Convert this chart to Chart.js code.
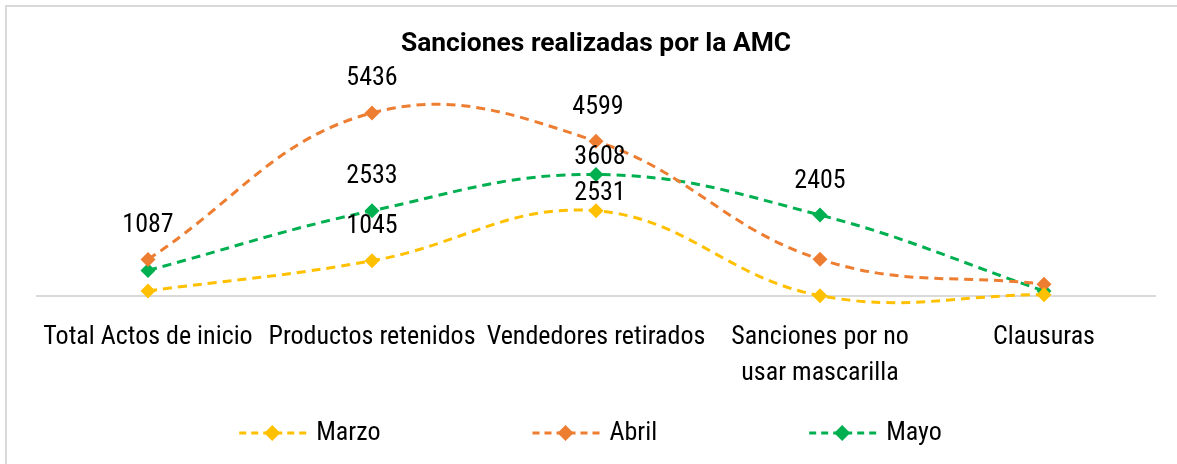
<!DOCTYPE html>
<html><head><meta charset="utf-8">
<script src="https://cdn.jsdelivr.net/npm/chart.js@4.4.1/dist/chart.umd.min.js"></script>
<style>html,body{margin:0;padding:0;background:#fff;overflow:hidden;}</style>
</head><body>
<canvas id="c" width="1177" height="464"></canvas>
<script>
// ---- data ----
const categories = ['Total Actos de inicio', 'Productos retenidos', 'Vendedores retirados', ['Sanciones por no', 'usar mascarilla'], 'Clausuras'];
const seriesNames = ['Marzo', 'Abril', 'Mayo'];
const marzoValues = [150, 1045, 2531, 10, 40];
const abrilValues = [1087, 5436, 4599, 1090, 350];
const mayoValues = [760, 2533, 3608, 2405, 150];
const marzoLabelled = [false, true, true, false, false];
const abrilLabelled = [true, true, true, false, false];
const mayoLabelled = [false, true, true, true, false];
const titleText = 'Sanciones realizadas por la AMC';
const yMin = 0, yMax = 6000;

// ---- styles ----
const NARROW = "'Roboto Condensed', 'Liberation Sans Narrow', 'DejaVu Sans Condensed', sans-serif";
const colors = ['#FFC000', '#ED7D31', '#00B050'];
const valueSets = [marzoValues, abrilValues, mayoValues];
const labelSets = [marzoLabelled, abrilLabelled, mayoLabelled];

const datasets = seriesNames.map((name, i) => ({
  label: name,
  data: valueSets[i],
  showValue: labelSets[i],
  borderColor: colors[i],
  backgroundColor: colors[i],
  borderWidth: 3,
  borderDash: [9, 6],
  tension: 0.4,
  capBezierPoints: false,
  clip: false,
  pointStyle: 'rectRot',
  pointRadius: 7.5,
  pointBorderWidth: 0,
  pointBackgroundColor: colors[i],
  fill: false
}));

const frame = {
  id: 'frame',
  beforeDraw(chart) {
    const ctx = chart.ctx;
    ctx.save();
    ctx.fillStyle = '#fff';
    ctx.fillRect(0, 0, chart.width, chart.height);
    ctx.strokeStyle = '#d9d9d9';
    ctx.lineWidth = 2;
    ctx.beginPath();
    ctx.moveTo(6, chart.height); ctx.lineTo(6, 6); ctx.lineTo(chart.width, 6);
    ctx.stroke();
    ctx.restore();
  },
  beforeDatasetsDraw(chart) {
    const ctx = chart.ctx, a = chart.chartArea;
    const y0 = chart.scales.y.getPixelForValue(0);
    ctx.save();
    ctx.strokeStyle = '#d9d9d9';
    ctx.lineWidth = 2;
    ctx.beginPath(); ctx.moveTo(a.left, y0); ctx.lineTo(a.right, y0); ctx.stroke();
    ctx.restore();
  }
};

const valueLabels = {
  id: 'valueLabels',
  afterDatasetsDraw(chart, args, opts) {
    const ctx = chart.ctx;
    ctx.save();
    ctx.font = opts.font;
    ctx.fillStyle = opts.color;
    ctx.textAlign = 'center';
    ctx.textBaseline = 'middle';
    chart.data.datasets.forEach((ds, di) => {
      const meta = chart.getDatasetMeta(di);
      meta.data.forEach((pt, i) => {
        if (!ds.showValue[i]) return;
        const key = ds.label + ':' + i;
        const lift = opts.lift[key] !== undefined ? opts.lift[key] : opts.lift.default;
        const dx = opts.shift[key] || 0;
        ctx.fillText(String(ds.data[i]), pt.x + dx, pt.y - lift);
      });
    });
    ctx.restore();
  }
};

const customLegend = {
  id: 'customLegend',
  afterDraw(chart, args, opts) {
    const ctx = chart.ctx;
    ctx.save();
    ctx.font = opts.font;
    const items = chart.data.datasets.map(ds => ({text: ds.label, color: ds.borderColor, w: ctx.measureText(ds.label).width}));
    const total = items.reduce((s, it) => s + opts.lineLen + opts.textGap + it.w, 0) + opts.itemGap * (items.length - 1);
    let x = opts.centerX - total / 2;
    const y = opts.y;
    items.forEach(it => {
      ctx.strokeStyle = it.color;
      ctx.lineWidth = 3;
      ctx.setLineDash([7, 5]);
      ctx.beginPath(); ctx.moveTo(x, y); ctx.lineTo(x + opts.lineLen, y); ctx.stroke();
      ctx.setLineDash([]);
      const cx = x + opts.lineLen / 2 - 2, r = 8;
      ctx.fillStyle = it.color;
      ctx.beginPath(); ctx.moveTo(cx, y - r); ctx.lineTo(cx + r, y); ctx.lineTo(cx, y + r); ctx.lineTo(cx - r, y); ctx.closePath(); ctx.fill();
      ctx.fillStyle = '#000';
      ctx.textAlign = 'left';
      ctx.textBaseline = 'middle';
      ctx.fillText(it.text, x + opts.lineLen + opts.textGap, y);
      x += opts.lineLen + opts.textGap + it.w + opts.itemGap;
    });
    ctx.restore();
  }
};

new Chart(document.getElementById('c'), {
  type: 'line',
  data: {labels: categories, datasets},
  plugins: [frame, valueLabels, customLegend],
  options: {
    responsive: false,
    devicePixelRatio: 1,
    animation: false,
    layout: {padding: {left: 36, right: 21, top: 0, bottom: 80}},
    scales: {
      x: {
        offset: true,
        grid: {display: false, drawTicks: false},
        border: {display: false},
        ticks: {autoSkip: false, maxRotation: 0, minRotation: 0, padding: 24, color: '#000',
          font: {family: NARROW, size: 26, lineHeight: 1.38}},
        afterFit(scale) { scale.height = 88; }
      },
      y: {display: false, min: yMin, max: yMax}
    },
    plugins: {
      legend: {display: false},
      tooltip: {enabled: false},
      title: {display: true, text: titleText, color: '#000',
        font: {family: 'Roboto', weight: 'bold', size: 26.4, lineHeight: 1.2},
        padding: {top: 29, bottom: 33.3}},
      valueLabels: {font: '26px ' + NARROW, color: '#000', lift: {default: 34, 'Marzo:2': 17, 'Mayo:2': 17}, shift: {'Abril:2': 2, 'Marzo:2': 4, 'Mayo:2': 4}},
      customLegend: {font: '26px ' + NARROW, lineLen: 70, textGap: 7, itemGap: 152, centerX: 590.5, y: 433}
    }
  }
});
</script>
</body></html>
